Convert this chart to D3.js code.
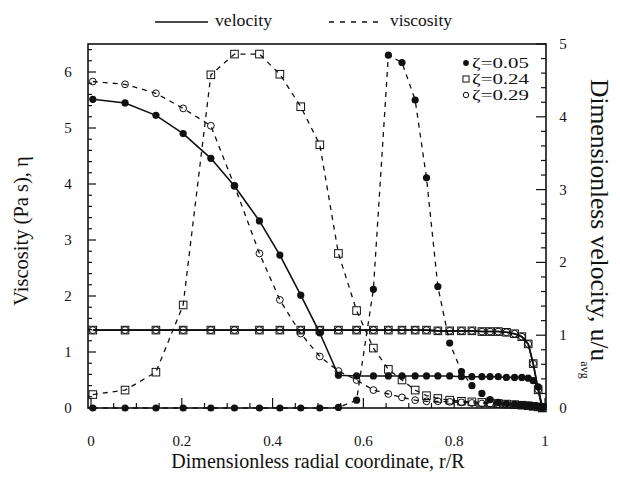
<!DOCTYPE html>
<html><head><meta charset="utf-8">
<script src="https://cdn.jsdelivr.net/npm/d3@7"></script>
<style>body{margin:0;background:#fff}svg{display:block}text{font-family:"Liberation Serif","DejaVu Serif",serif;fill:#111}</style>
</head><body><div id="chart"></div>
<script>
// radial grid nodes (r/R)
const rGrid = [0.004,0.075,0.143,0.203,0.264,0.316,0.371,0.416,0.462,0.504,0.545,0.585,0.622,0.655,0.685,0.714,0.739,0.764,0.790,0.816,0.839,0.861,0.879,0.897,0.915,0.933,0.949,0.963,0.974,0.985,0.994];
// zeta = 0.05 (filled circles)
const vel005 = [4.24,4.19,4.02,3.77,3.43,3.05,2.57,2.10,1.55,1.03,0.45,0.44,0.44,0.44,0.44,0.44,0.44,0.44,0.44,0.43,0.43,0.43,0.43,0.43,0.42,0.42,0.42,0.41,0.375,0.29,0];
const visc005 = [0,0,0,0,0,0,0,0,0,0,0.01,0.14,2.12,6.30,6.17,5.50,4.11,2.17,1.16,0.65,0.40,0.26,0.15,0.10,0.08,0.07,0.06,0.05,0.04,0.03,0.02];
// zeta = 0.24 (open squares)
const vel024 = [1.07,1.07,1.07,1.07,1.07,1.07,1.07,1.07,1.07,1.07,1.07,1.07,1.07,1.07,1.07,1.07,1.07,1.06,1.06,1.06,1.06,1.05,1.05,1.05,1.04,1.02,0.98,0.88,0.61,0.25,0];
const visc024 = [0.24,0.32,0.64,1.84,5.95,6.32,6.32,5.96,5.38,4.70,2.76,1.74,1.07,0.69,0.50,0.32,0.22,0.17,0.14,0.12,0.11,0.10,0.09,0.08,0.07,0.06,0.05,0.04,0.03,0.02,0.01];
// zeta = 0.29 (open circles)
const vel029 = [1.07,1.07,1.07,1.07,1.07,1.07,1.07,1.07,1.07,1.07,1.07,1.07,1.07,1.07,1.07,1.07,1.07,1.06,1.06,1.06,1.06,1.05,1.05,1.05,1.04,1.02,0.98,0.88,0.61,0.25,0];
const visc029 = [5.83,5.78,5.62,5.35,5.04,3.97,2.76,1.93,1.33,0.92,0.66,0.50,0.32,0.25,0.19,0.14,0.12,0.12,0.11,0.10,0.09,0.08,0.08,0.07,0.06,0.05,0.05,0.04,0.03,0.02,0.01];
const seriesNames = ["ζ=0.05","ζ=0.24","ζ=0.29"];
const xTicks = [0,0.2,0.4,0.6,0.8,1];
const yLeftTicks = [0,1,2,3,4,5,6];
const yRightTicks = [0,1,2,3,4,5];

const W = 620, H = 477;
const svg = d3.select("#chart").append("svg").attr("width", W).attr("height", H);
const frame = {l: 88, r: 546, t: 44, b: 408};
const x = d3.scaleLinear().domain([0,1]).range([91,545]);
const yL = d3.scaleLinear().domain([0,6.5]).range([408,44]);
const yR = d3.scaleLinear().domain([0,5]).range([408,44]);
const ink = "#111";

// frame
svg.append("rect").attr("x",frame.l).attr("y",frame.t).attr("width",frame.r-frame.l).attr("height",frame.b-frame.t)
  .attr("fill","none").attr("stroke",ink).attr("stroke-width",1.6);

// ticks (inward)
const g = svg.append("g").attr("stroke",ink).attr("stroke-width",1.2);
d3.range(0,6.41,0.2).forEach(v=>{
  const major = Math.abs(v-Math.round(v))<1e-6;
  g.append("line").attr("x1",frame.l).attr("x2",frame.l+(major?8:4)).attr("y1",yL(v)).attr("y2",yL(v));
});
d3.range(0,5.01,0.2).forEach(v=>{
  const major = Math.abs(v-Math.round(v))<1e-6;
  g.append("line").attr("x1",frame.r).attr("x2",frame.r-(major?10:5)).attr("y1",yR(v)).attr("y2",yR(v));
});
d3.range(0,1.001,0.05).forEach(v=>{
  const major = Math.abs(v*5-Math.round(v*5))<1e-6;
  g.append("line").attr("x1",x(v)).attr("x2",x(v)).attr("y1",frame.b).attr("y2",frame.b-(major?10:5));
});

// tick labels
svg.selectAll(".xl").data(xTicks).join("text").attr("x",d=>x(d)).attr("y",446)
  .attr("text-anchor","middle").attr("font-size",15).text(d=>d);
svg.selectAll(".yl").data(yLeftTicks).join("text").attr("x",68).attr("y",d=>yL(d)+5)
  .attr("text-anchor","middle").attr("font-size",15).text(d=>d);
svg.selectAll(".yr").data(yRightTicks).join("text").attr("x",563).attr("y",d=>yR(d)+5)
  .attr("text-anchor","middle").attr("font-size",15).text(d=>d);

// axis titles
svg.append("text").attr("x",318).attr("y",468).attr("text-anchor","middle").attr("font-size",20)
  .text("Dimensionless radial coordinate, r/R");
svg.append("text").attr("transform","translate(28,231) rotate(-90)").attr("text-anchor","middle").attr("font-size",20.5)
  .text("Viscosity (Pa s), η");
const rt = svg.append("text").attr("transform","translate(591,79) rotate(90)").attr("font-size",25.5);
rt.append("tspan").text("Dimensionless velocity, u/u");
rt.append("tspan").attr("font-size",12).attr("dy",10).text("avg");

// lines
const lineV = d3.line().x((d,i)=>x(rGrid[i])).y(d=>yR(d));
const lineN = d3.line().x((d,i)=>x(rGrid[i])).y(d=>yL(d));
const series = [
  {vel: vel005, visc: visc005, shape: "fcirc"},
  {vel: vel024, visc: visc024, shape: "square"},
  {vel: vel029, visc: visc029, shape: "ocirc"}
];
series.forEach(s=>{
  svg.append("path").attr("d",lineN(s.visc)).attr("fill","none").attr("stroke",ink).attr("stroke-width",1.3).attr("stroke-dasharray","5,5");
  svg.append("path").attr("d",lineV(s.vel)).attr("fill","none").attr("stroke",ink).attr("stroke-width",1.6);
});
function marker(sel, shape, cx, cy, s){
  s = s || 1;
  if(shape==="fcirc") sel.append("circle").attr("cx",cx).attr("cy",cy).attr("r",3.6*s).attr("fill",ink);
  else if(shape==="square") sel.append("rect").attr("x",cx-3.8*s).attr("y",cy-3.8*s).attr("width",7.6*s).attr("height",7.6*s).attr("fill","none").attr("stroke",ink).attr("stroke-width",1);
  else sel.append("circle").attr("cx",cx).attr("cy",cy).attr("r",3.4*s).attr("fill","none").attr("stroke",ink).attr("stroke-width",1);
}
const mk = svg.append("g");
series.forEach(s=>{
  s.visc.forEach((v,i)=>marker(mk,s.shape,x(rGrid[i]),yL(v)));
  s.vel.forEach((v,i)=>marker(mk,s.shape,x(rGrid[i]),yR(v)));
});

// inset legend
const shapes = ["fcirc","square","ocirc"];
seriesNames.forEach((n,i)=>{
  const yy = 63 + i*16;
  marker(svg, shapes[i], 466, yy, 0.8);
  svg.append("text").attr("x",472).attr("y",yy+5).attr("font-size",15.5)
    .attr("textLength",57).attr("lengthAdjust","spacingAndGlyphs").text(n);
});

// top legend
svg.append("line").attr("x1",155).attr("x2",208).attr("y1",22).attr("y2",22).attr("stroke",ink).attr("stroke-width",1.3);
svg.append("text").attr("x",215).attr("y",26).attr("font-size",16.5).attr("textLength",57).attr("lengthAdjust","spacingAndGlyphs").text("velocity");
svg.append("line").attr("x1",329).attr("x2",383).attr("y1",22).attr("y2",22).attr("stroke",ink).attr("stroke-width",1.3).attr("stroke-dasharray","5,6");
svg.append("text").attr("x",390).attr("y",26).attr("font-size",16.5).attr("textLength",62).attr("lengthAdjust","spacingAndGlyphs").text("viscosity");
</script></body></html>
